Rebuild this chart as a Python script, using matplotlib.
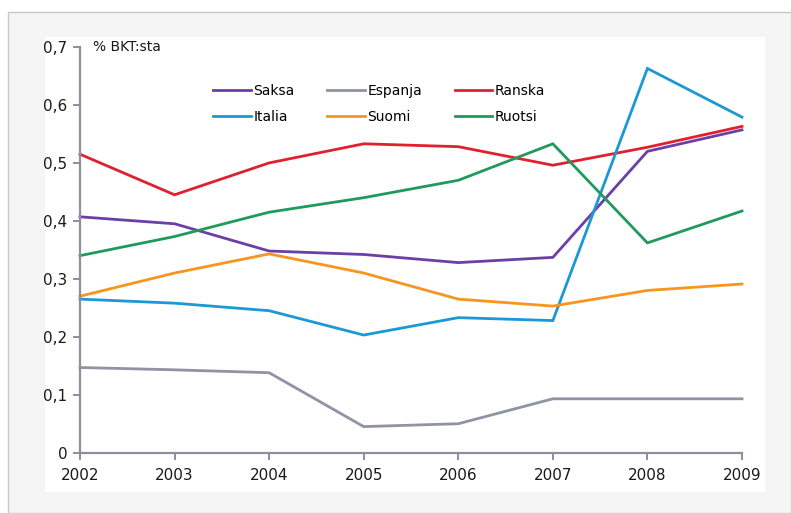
import matplotlib
matplotlib.use("Agg")
import matplotlib.pyplot as plt
from matplotlib.patches import Rectangle

years = [2002, 2003, 2004, 2005, 2006, 2007, 2008, 2009]
saksa = [0.407, 0.395, 0.348, 0.342, 0.328, 0.337, 0.520, 0.557]
espanja = [0.147, 0.143, 0.138, 0.045, 0.050, 0.093, 0.093, 0.093]
ranska = [0.515, 0.445, 0.500, 0.533, 0.528, 0.496, 0.527, 0.563]
italia = [0.265, 0.258, 0.245, 0.203, 0.233, 0.228, 0.663, 0.579]
suomi = [0.270, 0.310, 0.343, 0.310, 0.265, 0.253, 0.280, 0.291]
ruotsi = [0.340, 0.373, 0.415, 0.440, 0.470, 0.533, 0.362, 0.417]
y_ticks = [0, 0.1, 0.2, 0.3, 0.4, 0.5, 0.6, 0.7]
y_labels = ["0", "0,1", "0,2", "0,3", "0,4", "0,5", "0,6", "0,7"]

W, H = 791, 513
fig = plt.figure(figsize=(W / 100, H / 100), dpi=100)
fig.patch.set_facecolor("white")

# outer frame and white panel behind the chart
bg = fig.add_axes([0, 0, 1, 1], zorder=-5)
bg.set_xlim(0, W)
bg.set_ylim(H, 0)
bg.axis("off")
bg.add_patch(Rectangle((8, 12), W - 8, H - 12, facecolor="#f5f5f5",
                       edgecolor="#c8c8c8", linewidth=1.0))
bg.add_patch(Rectangle((45, 37), 765 - 45, 492 - 37, facecolor="white",
                       edgecolor="none"))

ax = fig.add_axes([80 / W, (H - 452.7) / H, (742 - 80) / W, (452.7 - 47) / H])
ax.set_facecolor("none")

series = [
    ("Saksa", saksa, "#6a3fa6"),
    ("Espanja", espanja, "#8f93a3"),
    ("Ranska", ranska, "#e1202f"),
    ("Italia", italia, "#1b98d5"),
    ("Suomi", suomi, "#f7951f"),
    ("Ruotsi", ruotsi, "#1f9a5c"),
]
lines = {}
for name, vals, col in series:
    lines[name], = ax.plot(years, vals, color=col, linewidth=2.0, label=name,
                           solid_joinstyle="miter", clip_on=False)

ax.set_xlim(2002, 2009)
ax.set_ylim(0, 0.7)
ax.set_xticks(years)
ax.set_xticklabels([str(y) for y in years])
ax.set_yticks(y_ticks)
ax.set_yticklabels(y_labels)

axis_col = "#8c8f9c"
for side in ["top", "right"]:
    ax.spines[side].set_visible(False)
for side in ["left", "bottom"]:
    ax.spines[side].set_color(axis_col)
    ax.spines[side].set_linewidth(1.6)
ax.tick_params(axis="both", color=axis_col, width=1.4, length=5,
               labelsize=11, labelcolor="#1a1a1a")
ax.tick_params(axis="x", pad=6)
ax.tick_params(axis="y", pad=4)

fig.text(93 / W, (H - 47) / H, "% BKT:sta", fontsize=10, color="#1a1a1a",
         va="center", ha="left")

# legend filled row by row: Saksa, Espanja, Ranska / Italia, Suomi, Ruotsi
order = ["Saksa", "Italia", "Espanja", "Suomi", "Ranska", "Ruotsi"]
ax.legend([lines[n] for n in order], order, ncol=3, loc="upper left",
          bbox_to_anchor=(213 / W, (H - 84) / H), bbox_transform=fig.transFigure,
          frameon=False, fontsize=10, handlelength=2.7, columnspacing=2.35,
          handletextpad=0.2, labelspacing=0.85, borderpad=0, borderaxespad=0)

fig.savefig("out.png", dpi=100)
